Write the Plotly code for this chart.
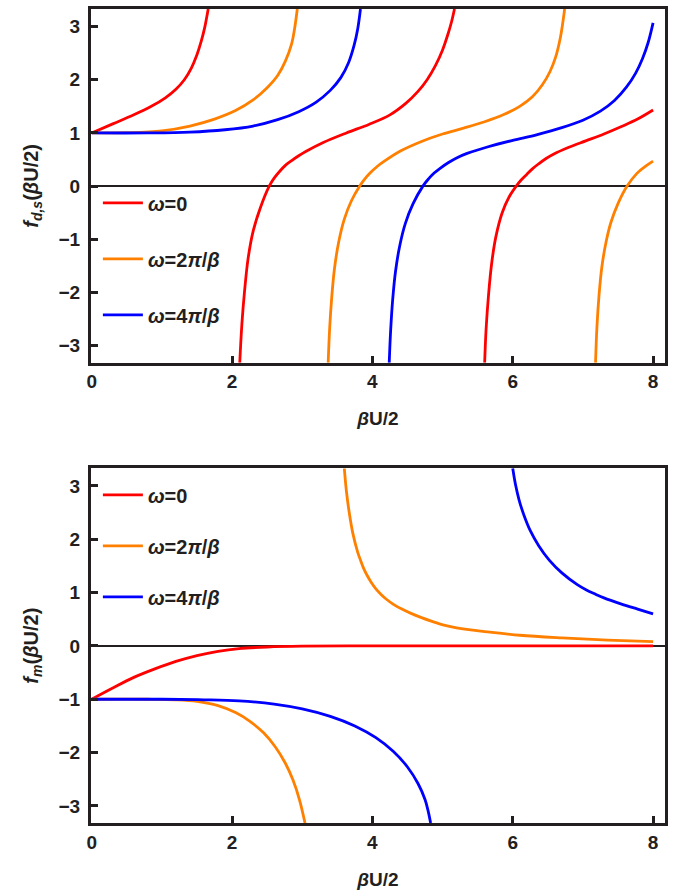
import plotly.graph_objects as go

# ---------------- data ----------------
# top panel f_{d,s}; branches separated by None
top_red_x = [0, 0.30, 0.60, 0.85, 1.05, 1.20, 1.32, 1.42, 1.50, 1.56, 1.61, 1.66, None,
             2.11, 2.14, 2.18, 2.23, 2.30, 2.40, 2.53, 2.60, 2.68, 2.76, 2.85, 2.95, 3.05, 3.30, 3.63, 3.95, 4.25,
             4.48, 4.65, 4.78, 4.90, 5.00, 5.08, 5.13, 5.17, None,
             5.60, 5.62, 5.655, 5.70, 5.76, 5.85, 5.95, 6.05, 6.12, 6.20, 6.28, 6.37, 6.47, 6.58, 6.80, 7.04, 7.30,
             7.55, 7.78, 8.0]
top_red_y = [1.00, 1.17, 1.34, 1.50, 1.66, 1.82, 2.00, 2.22, 2.47, 2.72, 2.98, 3.33, None,
             -3.32, -2.60, -1.95, -1.35, -0.85, -0.42, 0.00, 0.15, 0.28, 0.39, 0.48, 0.57, 0.65, 0.82, 1.00, 1.16, 1.34,
             1.56, 1.78, 2.00, 2.27, 2.56, 2.87, 3.10, 3.33, None,
             -3.32, -2.70, -2.05, -1.45, -0.95, -0.50, -0.20, 0.00, 0.115, 0.22, 0.325, 0.42, 0.515, 0.60, 0.73, 0.85, 0.98,
             1.12, 1.26, 1.43]

top_orange_x = [0, 0.50, 1.00, 1.40, 1.75, 2.05, 2.30, 2.50, 2.65, 2.76, 2.85, 2.89, 2.93, None,
                3.37, 3.39, 3.42, 3.46, 3.52, 3.60, 3.70, 3.82, 3.89, 3.97, 4.06, 4.15, 4.40, 4.70, 5.00, 5.30, 5.60,
                5.88, 6.10, 6.28, 6.42, 6.53, 6.61, 6.68, 6.74, None,
                7.18, 7.20, 7.23, 7.27, 7.33, 7.40, 7.50, 7.63, 7.77, 7.90, 8.0]
top_orange_y = [1.00, 1.005, 1.04, 1.13, 1.26, 1.42, 1.62, 1.85, 2.08, 2.35, 2.68, 2.95, 3.33, None,
                -3.32, -2.70, -2.10, -1.55, -1.05, -0.62, -0.28, 0.00, 0.13, 0.25, 0.36, 0.45, 0.66, 0.84, 0.98, 1.09, 1.21,
                1.35, 1.50, 1.68, 1.90, 2.15, 2.42, 2.80, 3.33, None,
                -3.32, -2.65, -2.05, -1.52, -1.05, -0.68, -0.33, 0.00, 0.24, 0.38, 0.47]

top_blue_x = [0, 0.80, 1.40, 1.90, 2.30, 2.65, 2.95, 3.20, 3.40, 3.55, 3.66, 3.74, 3.79, 3.83, None,
              4.24, 4.26, 4.29, 4.33, 4.39, 4.47, 4.58, 4.72, 4.80, 4.88, 4.97, 5.08, 5.20, 5.35, 5.65, 6.00, 6.35,
              6.70, 7.00, 7.25, 7.45, 7.62, 7.75, 7.85, 7.93, 8.0]
top_blue_y = [1.00, 1.00, 1.015, 1.06, 1.13, 1.25, 1.40, 1.58, 1.80, 2.04, 2.32, 2.65, 2.95, 3.33, None,
              -3.32, -2.72, -2.12, -1.60, -1.12, -0.70, -0.33, 0.00, 0.135, 0.245, 0.34, 0.44, 0.53, 0.615, 0.74, 0.86, 0.97,
              1.10, 1.24, 1.41, 1.61, 1.86, 2.12, 2.40, 2.70, 3.07]

# bottom panel f_m
bot_red_x = [0, 0.30, 0.60, 0.90, 1.20, 1.50, 1.80, 2.10, 2.50, 3.00, 4.00, 5.00, 6.00, 7.00, 8.0]
bot_red_y = [-1.00, -0.79, -0.59, -0.43, -0.29, -0.18, -0.10, -0.05, -0.02, -0.005, 0.00, 0.00, 0.00, 0.00, 0.00]

bot_orange_x = [0, 0.80, 1.20, 1.50, 1.80, 2.05, 2.25, 2.45, 2.62, 2.76, 2.87, 2.96, 3.04, None,
                3.60, 3.63, 3.67, 3.72, 3.79, 3.83, 3.88, 3.93, 3.98, 4.05, 4.12, 4.20, 4.30, 4.42, 4.55, 4.70, 4.85,
                5.02, 5.20, 5.40, 5.60, 6.10, 6.70, 7.35, 8.0]
bot_orange_y = [-1.00, -1.00, -1.01, -1.04, -1.12, -1.25, -1.41, -1.63, -1.90, -2.20, -2.52, -2.88, -3.32, None,
                3.33, 2.90, 2.50, 2.12, 1.76, 1.61, 1.44, 1.31, 1.20, 1.07, 0.97, 0.875, 0.78, 0.69, 0.61, 0.53, 0.46,
                0.39, 0.34, 0.30, 0.27, 0.20, 0.15, 0.11, 0.08]

bot_blue_x = [0, 1.00, 1.60, 2.10, 2.60, 3.00, 3.40, 3.75, 4.05, 4.30, 4.50, 4.65, 4.75, 4.79, 4.83, None,
              6.00, 6.04, 6.09, 6.16, 6.25, 6.37, 6.52, 6.70, 6.92, 7.05, 7.18, 7.30, 7.55, 7.78, 8.0]
bot_blue_y = [-1.00, -1.00, -1.01, -1.03, -1.09, -1.18, -1.32, -1.50, -1.72, -1.98, -2.27, -2.58, -2.88, -3.07, -3.32, None,
              3.33, 3.02, 2.74, 2.45, 2.16, 1.88, 1.61, 1.37, 1.15, 1.05, 0.97, 0.90, 0.785, 0.69, 0.60]

series_names = ["<b><i>ω</i>=0</b>", "<b><i>ω</i>=2<i>π</i>/<i>β</i></b>", "<b><i>ω</i>=4<i>π</i>/<i>β</i></b>"]
series_colors = ["#ff0000", "#ff8000", "#0000ff"]

x_ticks = [0, 2, 4, 6, 8]
y_ticks = [-3, -2, -1, 0, 1, 2, 3]
x_title = "<b><i>β</i>U/2</b>"
y_title_top = "<b><i>f</i><sub><i>d,s</i></sub>(<i>β</i>U/2)</b>"
y_title_bot = "<b><i>f</i><sub><i>m</i></sub>(<i>β</i>U/2)</b>"

# ---------------- figure ----------------
INK = "#231f20"
FONT = "Liberation Sans, Arial, sans-serif"

fig = go.Figure()

top_data = [(top_red_x, top_red_y), (top_orange_x, top_orange_y), (top_blue_x, top_blue_y)]
bot_data = [(bot_red_x, bot_red_y), (bot_orange_x, bot_orange_y), (bot_blue_x, bot_blue_y)]

for i, (xs, ys) in enumerate(top_data):
    fig.add_trace(go.Scatter(x=xs, y=ys, mode="lines", name=series_names[i],
                             line=dict(color=series_colors[i], width=2.8, shape="spline", smoothing=1.0),
                             connectgaps=False, xaxis="x", yaxis="y",
                             legend="legend", legendgroup="t%d" % i))
for i, (xs, ys) in enumerate(bot_data):
    fig.add_trace(go.Scatter(x=xs, y=ys, mode="lines", name=series_names[i],
                             line=dict(color=series_colors[i], width=2.8, shape="spline", smoothing=1.0),
                             connectgaps=False, xaxis="x2", yaxis="y2",
                             legend="legend2", legendgroup="b%d" % i))

L, R, T, B = 91, 15, 6, 72
W, H = 680, 895
ph = H - T - B
top_dom = [(H - B - 361) / ph, 1.0]
bot_dom = [0.0, (H - B - 467) / ph]

xcommon = dict(range=[-0.01, 8.17], tickvals=x_ticks, ticks="inside", ticklen=7, tickwidth=2.5,
               tickcolor=INK, showline=True, linecolor=INK, linewidth=3, mirror=True,
               showgrid=False, zeroline=False,
               tickfont=dict(size=19, color=INK, family=FONT, weight="bold"))
ycommon = dict(range=[-3.32, 3.33], tickvals=y_ticks, ticks="inside", ticklen=7, tickwidth=2.5,
               tickcolor=INK, showline=True, linecolor=INK, linewidth=3, mirror=True,
               showgrid=False, zeroline=True, zerolinecolor=INK, zerolinewidth=2.2,
               ticklabelstandoff=4,
               tickfont=dict(size=19, color=INK, family=FONT, weight="bold"))

xtitle = dict(text=x_title, standoff=21, font=dict(size=19, color=INK, family=FONT))

fig.update_layout(
    width=W, height=H,
    margin=dict(l=L, r=R, t=T, b=B),
    paper_bgcolor="white", plot_bgcolor="white",
    font=dict(family=FONT, color=INK),
    xaxis=dict(domain=[0, 1], anchor="y", title=xtitle, **xcommon),
    yaxis=dict(domain=top_dom, anchor="x", title=dict(text=y_title_top, standoff=15,
                                                      font=dict(size=20, color=INK, family=FONT)), **ycommon),
    xaxis2=dict(domain=[0, 1], anchor="y2", title=xtitle, **xcommon),
    yaxis2=dict(domain=bot_dom, anchor="x2", title=dict(text=y_title_bot, standoff=15,
                                                        font=dict(size=20, color=INK, family=FONT)), **ycommon),
    legend=dict(x=0.012, y=(H - B - 181) / ph, xanchor="left", yanchor="top",
                bgcolor="rgba(0,0,0,0)", tracegroupgap=27, itemwidth=40,
                font=dict(size=20, color=INK, family=FONT)),
    legend2=dict(x=0.012, y=(H - B - 474) / ph, xanchor="left", yanchor="top",
                 bgcolor="rgba(0,0,0,0)", tracegroupgap=22, itemwidth=40,
                 font=dict(size=20, color=INK, family=FONT)),
    showlegend=True,
)

fig.write_html("out.html")
